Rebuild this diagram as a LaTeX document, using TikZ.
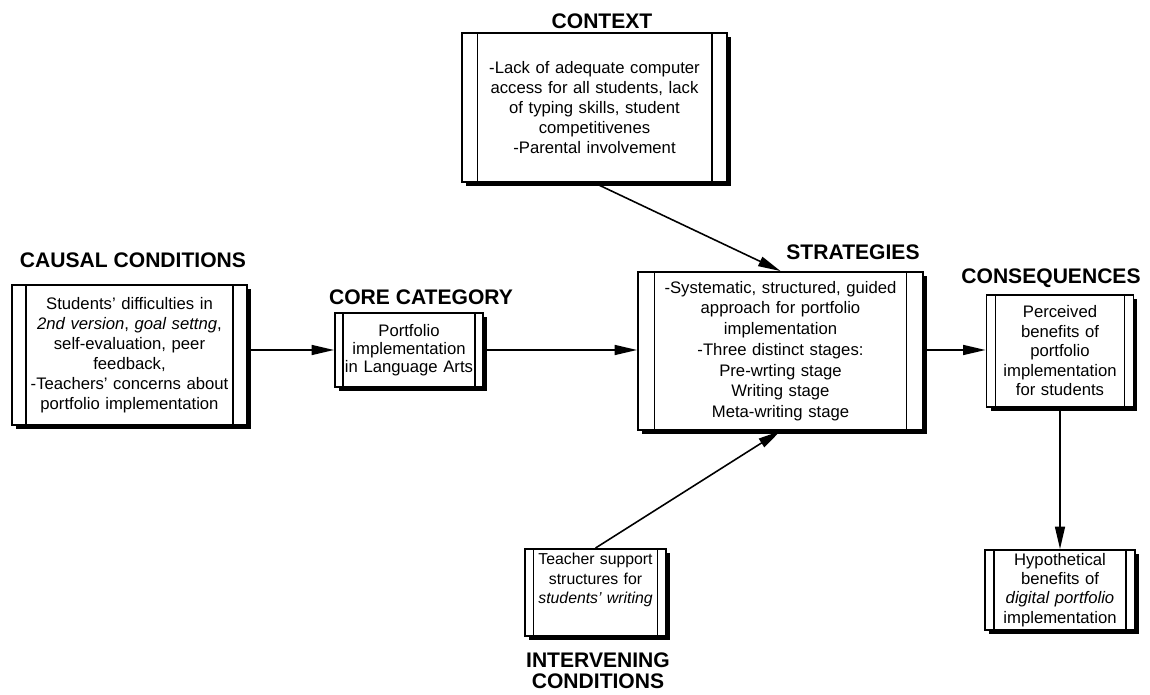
\documentclass[tikz,border=0pt]{standalone}
\usepackage{fontspec}
\setmainfont{Liberation Sans}
\usetikzlibrary{arrows.meta,shadows}

\newcommand{\toptext}[2]{\parbox[c][#1][t]{\linewidth}{\centering #2}}

\tikzset{
  procbox/.style={draw, line width=1.1pt, fill=white, inner sep=0pt, align=center,
    font=\fontsize{9.5}{11.4}\selectfont,
    drop shadow={shadow xshift=0.08cm, shadow yshift=-0.08cm, fill=black, opacity=1},
    path picture={
      \draw[semithick] ([xshift=#1]path picture bounding box.north west)
        -- ([xshift=#1]path picture bounding box.south west);
      \draw[semithick] ([xshift=-#1]path picture bounding box.north east)
        -- ([xshift=-#1]path picture bounding box.south east);
    }},
  heading/.style={font=\fontsize{12}{12}\selectfont\bfseries, align=center},
  flow/.style={line width=0.9pt, -{Triangle[length=0.45cm,width=0.2cm]}}
}

\begin{document}
\begin{tikzpicture}[x=0.02cm,y=-0.02cm]
                            \useasboundingbox (0,0) rectangle (1150,695);

                            % Boxes
                            \node[procbox=0.28cm, minimum width=4.7cm, minimum height=2.8cm,
                                        text width=4.1cm] (causal) at (129.5,355)
                                  {Students' difficulties in\\ \textit{2nd version}, \textit{goal settng},\\
                                   self-evaluation, peer\\ feedback,\\ -Teachers' concerns about\\
                                   portfolio implementation};
                            \node[procbox=0.16cm, minimum width=2.96cm, minimum height=1.48cm,
                                        text width=2.6cm, font=\fontsize{9.5}{10.4}\selectfont] (core) at (409,350)
                                  {Portfolio\\ implementation\\ in Language Arts};
                            \node[procbox=0.3cm, minimum width=5.3cm, minimum height=2.98cm,
                                        text width=4.6cm] (context) at (594.5,107.5)
                                  {-Lack of adequate computer\\ access for all students, lack\\
                                   of typing skills, student\\ competitivenes\\ -Parental involvement};
                            \node[procbox=0.33cm, minimum width=5.7cm, minimum height=3.16cm,
                                        text width=5cm, font=\fontsize{9.5}{11.8}\selectfont] (strat) at (780.5,351)
                                  {-Systematic, structured, guided\\ approach for portfolio\\
                                   implementation\\ -Three distinct stages:\\ Pre-wrting stage\\
                                   Writing stage\\ Meta-writing stage};
                            \node[procbox=0.18cm, minimum width=2.94cm, minimum height=2.24cm,
                                        text width=2.55cm, font=\fontsize{9.5}{11.1}\selectfont] (cons) at (1060,351)
                                  {Perceived\\ benefits of\\ portfolio\\ implementation\\ for students};
                            \node[procbox=0.17cm, minimum width=2.82cm, minimum height=1.74cm,
                                        text width=2.5cm, font=\fontsize{9}{11}\selectfont] (interv) at (595.5,592.5)
                                  {\toptext{1.56cm}{Teacher support\\ structures for\\ \textit{students' writing}}};
                            \node[procbox=0.18cm, minimum width=3cm, minimum height=1.6cm,
                                        text width=2.6cm, font=\fontsize{9.5}{11}\selectfont] (hypo) at (1060,590)
                                  {Hypothetical\\ benefits of\\ \textit{digital portfolio}\\ implementation};

                            % Titles
                            \node[heading] (causal-t) at (133,260) {CAUSAL CONDITIONS};
                            \node[heading] (core-t) at (421,297) {CORE CATEGORY};
                            \node[heading] (context-t) at (602,21) {CONTEXT};
                            \node[heading] (strat-t) at (853,252) {STRATEGIES};
                            \node[heading] (cons-t) at (1051,278) {CONSEQUENCES};
                            \node[heading] (interv-t) at (598,671) {INTERVENING\\ CONDITIONS};

                            % Arrows
                            \draw[flow] (core.west -| causal.east) -- (core.west);
                            \draw[flow] (core.east) -- (core.east -| strat.west);
                            \draw[flow] (strat.east |- core.east) -- (cons.west |- core.east);
                            \draw[flow] (context.south) -- (strat.north);
                            \draw[flow] (interv.north) -- (strat.south);
                            \draw[flow] (cons.south) -- (hypo.north);
                      \end{tikzpicture}
\end{document}
